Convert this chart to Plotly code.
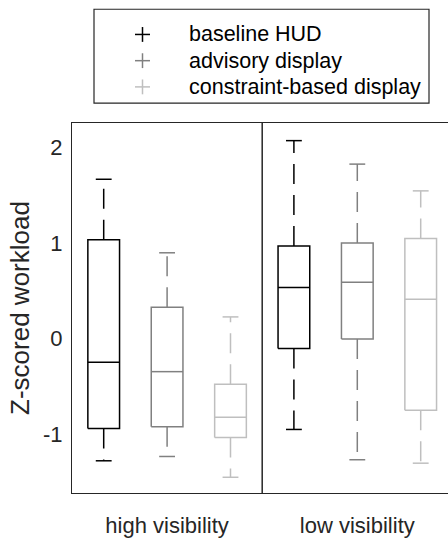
import plotly.graph_objects as go

groups = ["high visibility", "low visibility"]
series = ["baseline HUD", "advisory display", "constraint-based display"]
colors = ["#000000", "#808080", "#bfbfbf"]

# per series: values for [high visibility, low visibility]
upper = [[1.663, 2.066], [0.896, 1.821], [0.227, 1.542]]
q3 = [[1.033, 0.968], [0.327, 0.999], [-0.475, 1.046]]
median = [[-0.245, 0.534], [-0.344, 0.589], [-0.819, 0.410]]
q1 = [[-0.937, -0.103], [-0.919, -0.003], [-1.030, -0.747]]
lower = [[-1.274, -0.947], [-1.229, -1.263], [-1.446, -1.299]]

ytick_vals = [-1, 0, 1, 2]
ytick_text = ["-1", "0", "1", "2"]

W, H = 448, 538
ml, mr, mt, mb = 72, 0, 123, 41
FONT = "Liberation Sans, Arial, sans-serif"

bw = 0.25   # half box width
cw = 0.125  # half cap width

fig = go.Figure()
for s, name in enumerate(series):
    bx, by, wx, wy, cx, cy = [], [], [], [], [], []
    for g in range(len(groups)):
        x = g * 3 + s + 1
        bx += [x - bw, x + bw, x + bw, x - bw, x - bw, None]
        by += [q1[s][g], q1[s][g], q3[s][g], q3[s][g], q1[s][g], None]
        bx += [x - bw, x + bw, None]
        by += [median[s][g], median[s][g], None]
        wx += [x, x, None, x, x, None]
        wy += [q3[s][g], upper[s][g], None, q1[s][g], lower[s][g], None]
        cx += [x - cw, x + cw, None, x - cw, x + cw, None]
        cy += [upper[s][g], upper[s][g], None, lower[s][g], lower[s][g], None]
    fig.add_trace(go.Scatter(x=wx, y=wy, mode="lines", showlegend=False,
                             line=dict(color=colors[s], width=1.5, dash="20px,11px"),
                             hoverinfo="skip"))
    fig.add_trace(go.Scatter(x=cx, y=cy, mode="lines", showlegend=False,
                             line=dict(color=colors[s], width=1.5), hoverinfo="skip"))
    fig.add_trace(go.Scatter(x=bx, y=by, mode="lines", showlegend=False, name=name,
                             line=dict(color=colors[s], width=1.5), hoverinfo="skip"))

pw = W - ml - mr
ph = H - mt - mb


def px2paper(px, py):
    return (px - ml) / pw, (H - mb - py) / ph


shapes = []
shapes.append(dict(type="line", xref="x", yref="paper", x0=3.5, x1=3.5, y0=0, y1=1,
                   line=dict(color="#262626", width=1.5)))
x0, y0 = px2paper(94, 103)
x1, y1 = px2paper(429, 8)
shapes.append(dict(type="rect", xref="paper", yref="paper", x0=x0, y0=y0, x1=x1, y1=y1,
                   line=dict(color="#262626", width=1.2), fillcolor="white"))
annotations = []
row_y = [33.5, 60, 86.5]
for s, name in enumerate(series):
    mx, my = px2paper(142.5, row_y[s])
    hx = 7.5 / pw
    hy = 7.5 / ph
    shapes.append(dict(type="line", xref="paper", yref="paper", x0=mx - hx, x1=mx + hx,
                       y0=my, y1=my, line=dict(color=colors[s], width=1.5)))
    shapes.append(dict(type="line", xref="paper", yref="paper", x0=mx, x1=mx,
                       y0=my - hy, y1=my + hy, line=dict(color=colors[s], width=1.5)))
    tx, ty = px2paper(187, row_y[s])
    annotations.append(dict(xref="paper", yref="paper", x=tx, y=ty, text=name,
                            showarrow=False, xanchor="left", yanchor="middle",
                            font=dict(family=FONT, size=21.5, color="#000000")))

fig.update_layout(
    width=W, height=H,
    margin=dict(l=ml, r=mr, t=mt, b=mb, pad=0),
    paper_bgcolor="white", plot_bgcolor="white",
    showlegend=False,
    shapes=shapes, annotations=annotations,
    xaxis=dict(range=[0.5, 0.5 + pw / 63.4], tickvals=[2, 5], ticktext=groups,
               showgrid=False, zeroline=False, showline=True, mirror=True,
               linecolor="#262626", linewidth=1.3, ticks="",
               ticklabelstandoff=12,
               tickfont=dict(family=FONT, size=22, color="#262626")),
    yaxis=dict(range=[-1.61, 2.25], tickvals=ytick_vals, ticktext=ytick_text,
               showgrid=False, zeroline=False, showline=True,
               linecolor="#262626", linewidth=1.3, ticks="",
               ticklabelstandoff=4,
               tickfont=dict(family=FONT, size=22, color="#262626"),
               title=dict(text="Z-scored workload", standoff=5,
                          font=dict(family=FONT, size=26, color="#262626"))),
)

fig.write_html("out.html", config={"displayModeBar": False},
               post_script="document.body.style.margin='0';document.body.style.padding='0';")
